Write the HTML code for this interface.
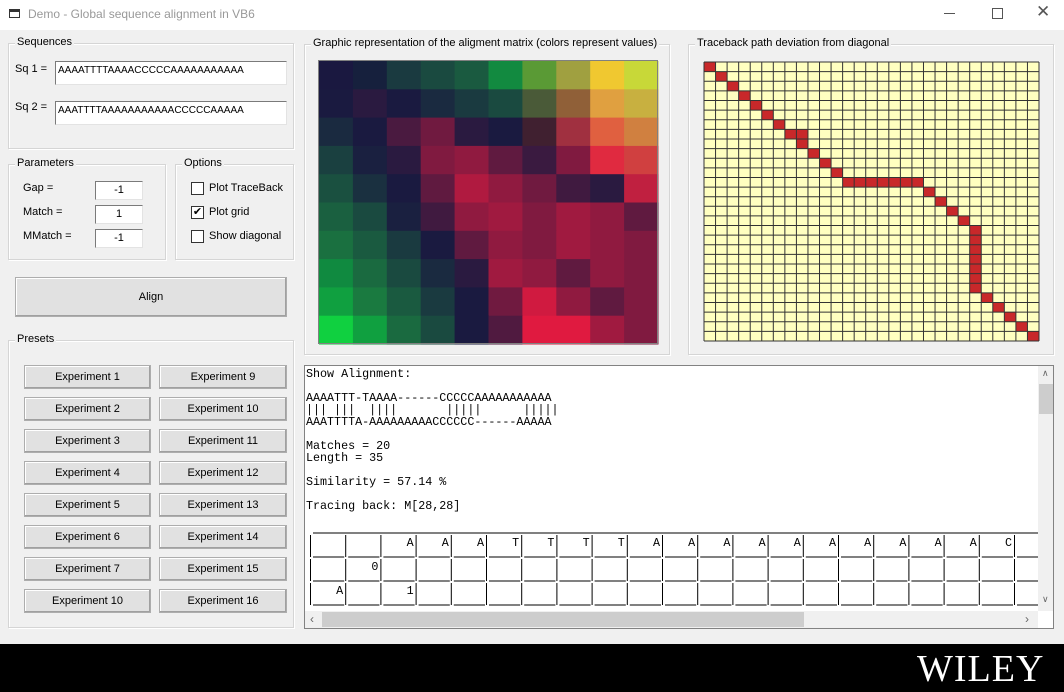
<!DOCTYPE html>
<html><head><meta charset="utf-8">
<style>
*{box-sizing:border-box;margin:0;padding:0}
body{width:1064px;height:692px;overflow:hidden;background:#f0f0f0;font-family:"Liberation Sans",sans-serif;font-size:11px;color:#000;position:relative}
.abs{position:absolute}
.grp{position:absolute;border:1px solid #d5d5d5;box-shadow:inset 1px 1px 0 #fff,1px 1px 0 #fff}
.grp>.lg{position:absolute;top:-8px;left:6px;background:#f0f0f0;padding:0 2px;font-size:11px}
.btn{position:absolute;background:#e1e1e1;border:1px solid #adadad;box-shadow:inset -1px -1px 0 #a0a0a0,inset 1px 1px 0 #fff;text-align:center;font-size:11px}
.tb{position:absolute;background:#fff;border:1px solid #7a7a7a;border-right-color:#e3e3e3;border-bottom-color:#e3e3e3;font-size:10px;padding:3px 2px}
.chk{position:absolute;width:13px;height:13px;border:1px solid #333;background:#fff}
.mono{font-family:"Liberation Mono",monospace;font-size:11.7px;line-height:12px;white-space:pre}
</style></head><body>
<div class="abs" style="left:0;top:0;width:1064px;height:30px;background:#fff">
  <div class="abs" style="left:9px;top:9px;width:11px;height:9px;border:1px solid #333;border-top-width:3px"></div>
  <div class="abs" style="left:28px;top:7px;font-size:12px;color:#999">Demo - Global sequence alignment in VB6</div>
  <div class="abs" style="left:944px;top:13px;width:11px;height:1px;background:#555"></div>
  <div class="abs" style="left:992px;top:8px;width:11px;height:11px;border:1px solid #555"></div>
  <div class="abs" style="left:1036px;top:2px;font-size:17px;color:#555">✕</div>
</div>

<div class="grp" style="left:8px;top:43px;width:286px;height:106px"><span class="lg">Sequences</span></div>
<div class="abs" style="left:15px;top:63px">Sq 1 =</div>
<div class="tb" style="left:55px;top:61px;width:232px;height:24px">AAAATTTTAAAACCCCCAAAAAAAAAAA</div>
<div class="abs" style="left:15px;top:101px">Sq 2 =</div>
<div class="tb" style="left:55px;top:101px;width:232px;height:24px">AAATTTTAAAAAAAAAAACCCCCAAAAA</div>

<div class="grp" style="left:8px;top:164px;width:158px;height:96px"><span class="lg">Parameters</span></div>
<div class="abs" style="left:23px;top:182px">Gap =</div>
<div class="abs" style="left:23px;top:206px">Match =</div>
<div class="abs" style="left:23px;top:230px">MMatch =</div>
<div class="tb" style="left:95px;top:181px;width:48px;height:19px;text-align:center;font-size:11px;padding:2px">-1</div>
<div class="tb" style="left:95px;top:205px;width:48px;height:19px;text-align:center;font-size:11px;padding:2px">1</div>
<div class="tb" style="left:95px;top:229px;width:48px;height:19px;text-align:center;font-size:11px;padding:2px">-1</div>

<div class="grp" style="left:175px;top:164px;width:119px;height:96px"><span class="lg">Options</span></div>
<div class="chk" style="left:191px;top:182px"></div>
<div class="abs" style="left:209px;top:182px">Plot TraceBack</div>
<div class="chk" style="left:191px;top:206px;font-size:11px;line-height:11px;text-align:center">✔</div>
<div class="abs" style="left:209px;top:206px">Plot grid</div>
<div class="chk" style="left:191px;top:230px"></div>
<div class="abs" style="left:209px;top:230px">Show diagonal</div>

<div class="btn" style="left:15px;top:277px;width:272px;height:40px;line-height:38px">Align</div>

<div class="grp" style="left:8px;top:340px;width:286px;height:288px"><span class="lg">Presets</span></div>
<div id="presets"></div>

<div class="grp" style="left:304px;top:44px;width:366px;height:311px"><span class="lg">Graphic representation of the aligment matrix (colors represent values)</span></div>
<svg class="abs" id="heat" style="left:318px;top:60px" width="341" height="285"></svg>

<div class="grp" style="left:688px;top:44px;width:366px;height:311px"><span class="lg">Traceback path deviation from diagonal</span></div>
<svg class="abs" id="trace" style="left:702px;top:60px" width="340" height="284"></svg>

<div class="abs" style="left:304px;top:365px;width:750px;height:264px;background:#fff;border:1px solid #828282;overflow:hidden">
<div class="abs mono" style="left:1px;top:2px">Show Alignment:

AAAATTT-TAAAA------CCCCCAAAAAAAAAAA
||| |||  ||||       |||||      |||||
AAATTTTA-AAAAAAAAACCCCCC------AAAAA

Matches = 20
Length = 35

Similarity = 57.14 %

Tracing back: M[28,28]</div>
<svg class="abs" id="tbl" style="left:0;top:160px" width="733" height="80"></svg>
<div class="abs" style="left:733px;top:0;width:17px;height:245px;background:#f0f0f0">
<div class="abs" style="left:4px;top:2px;font-size:9px;color:#666">∧</div>
<div class="abs" style="left:1px;top:18px;width:15px;height:30px;background:#cdcdcd"></div>
<div class="abs" style="left:4px;top:228px;font-size:9px;color:#666">∨</div></div>
<div class="abs" style="left:0;top:245px;width:733px;height:17px;background:#f0f0f0">
<div class="abs" style="left:5px;top:1px;font-size:12px;color:#666">‹</div>
<div class="abs" style="left:17px;top:1px;width:482px;height:15px;background:#cdcdcd"></div>
<div class="abs" style="left:720px;top:1px;font-size:12px;color:#666">›</div></div>
</div>

<div class="abs" style="left:0;top:644px;width:1064px;height:48px;background:#000"></div>
<div class="abs" style="left:917px;top:647px;font-family:'Liberation Serif',serif;font-size:38px;color:#fff;letter-spacing:1px">WILEY</div>

<script>
const presetsLeft=["Experiment 1","Experiment 2","Experiment 3","Experiment 4","Experiment 5","Experiment 6","Experiment 7","Experiment 10"];
const presetsRight=["Experiment 9","Experiment 10","Experiment 11","Experiment 12","Experiment 13","Experiment 14","Experiment 15","Experiment 16"];
const pc=document.getElementById('presets');
[[presetsLeft,24,127],[presetsRight,159,128]].forEach(([arr,x,w])=>arr.forEach((t,i)=>{
  const b=document.createElement('div');b.className='btn';
  
  
  b.style.cssText=`left:${x}px;top:${365+32*i}px;width:${w}px;height:24px;line-height:22px`;
  b.textContent=t;pc.appendChild(b);}));

// heatmap coarse colour samples (rows top->bottom)
const heatRows=[
["#1a1840","#16203d","#1a3a40","#1a4a40","#1a5a40","#128a40","#5a9a35","#a0a040","#f0c830","#c8d838"],
["#1a1a40","#2a1a40","#1a1a40","#1a2a40","#1a3a40","#1a4a40","#4a5a38","#906038","#e0a040","#c8b040"],
["#1a2a40","#1a1a40","#4a1a40","#701a40","#2a1a40","#1a1a40","#402030","#a03040","#e06040","#d08040"],
["#1a4040","#1a2040","#2a1a40","#801a40","#901a40","#601a40","#3a1a40","#801a40","#e02a40","#d04040"],
["#1a5040","#1a3040","#1a1a40","#601a40","#b01a40","#901a40","#701a40","#401a40","#2a1a40","#c02040"],
["#1a6040","#1a4a40","#1a2040","#401a40","#901a40","#a01a40","#801a40","#a01a40","#901a40","#601a40"],
["#1a7040","#1a5a40","#1a3a40","#1a1a40","#601a40","#901a40","#801a40","#a01a40","#901a40","#801a40"],
["#108a40","#1a6a40","#1a4a40","#1a2a40","#2a1a40","#a01a40","#901a40","#601a40","#901a40","#801a40"],
["#10a040","#1a7a40","#1a5a40","#1a3a40","#1a1a40","#701a40","#d01a40","#901a40","#601a40","#801a40"],
["#10d040","#10a040","#1a6a40","#1a4a40","#1a1a40","#501a40","#e01a40","#e01a40","#a01a40","#801a40"]];
const NS='http://www.w3.org/2000/svg';
const hs=document.getElementById('heat');
const hx=c=>1+c*339/heatRows[0].length, hy=r=>1+r*283/heatRows.length;
heatRows.forEach((row,r)=>row.forEach((col,c)=>{
  const e=document.createElementNS(NS,'rect');
  
  
  e.setAttribute('x',hx(c));e.setAttribute('y',hy(r));
  e.setAttribute('width',hx(c+1)-hx(c)+0.5);e.setAttribute('height',hy(r+1)-hy(r)+0.5);
  e.setAttribute('fill',col);hs.appendChild(e);}));
const hb=document.createElementNS(NS,'rect');


hb.setAttribute('x',0.5);hb.setAttribute('y',0.5);hb.setAttribute('width',339);hb.setAttribute('height',283);
hb.setAttribute('fill','none');hb.setAttribute('stroke','#808080');hs.appendChild(hb);

// traceback path
const gridN=29;
const pathCol=[0,1,2,3,4,5,6,7,8,8,9,10,11,12,13,14,15,16,17,18,19,20,21,22,23,23,23,23,23,23,23,24,25,26,27,28];
const pathRow=[0,1,2,3,4,5,6,7,7,8,9,10,11,12,12,12,12,12,12,12,13,14,15,16,17,18,19,20,21,22,23,24,25,26,27,28];
const ts=document.getElementById('trace');
const X0=2,Y0=2,W=335,H=279;
const gx=c=>X0+c*W/gridN, gy=r=>Y0+r*H/gridN;
const bg=document.createElementNS(NS,'rect');


bg.setAttribute('x',X0);bg.setAttribute('y',Y0);bg.setAttribute('width',W);bg.setAttribute('height',H);bg.setAttribute('fill','#ffffc0');ts.appendChild(bg);
pathCol.forEach((c,i)=>{
  const e=document.createElementNS(NS,'rect');
  
  
  e.setAttribute('x',gx(c));e.setAttribute('y',gy(pathRow[i]));
  e.setAttribute('width',W/gridN);e.setAttribute('height',H/gridN);e.setAttribute('fill','#c8282a');ts.appendChild(e);});
for(let k=0;k<=gridN;k++){
  const v=document.createElementNS(NS,'line');
  
  
  v.setAttribute('x1',gx(k));v.setAttribute('x2',gx(k));v.setAttribute('y1',Y0);v.setAttribute('y2',Y0+H);v.setAttribute('stroke','#333');ts.appendChild(v);
  const h=document.createElementNS(NS,'line');
  
  
  h.setAttribute('x1',X0);h.setAttribute('x2',X0+W);h.setAttribute('y1',gy(k));h.setAttribute('y2',gy(k));h.setAttribute('stroke','#333');ts.appendChild(h);}

// text table
const tblHeader=["","","A","A","A","T","T","T","T","A","A","A","A","A","A","A","A","A","A","C","C","C"];
const tblRow0=["","0"];
const tblRow1=["A","","1"];
const tb=document.getElementById('tbl');
const cw=35.2, tx=c=>5+c*cw;
function tline(x1,y1,x2,y2){const l=document.createElementNS(NS,'line');
  
  
  l.setAttribute('x1',x1);l.setAttribute('y1',y1);l.setAttribute('x2',x2);l.setAttribute('y2',y2);l.setAttribute('stroke','#000');tb.appendChild(l);}
tline(8,7,733,7);
[[tblHeader,20],[tblRow0,44],[tblRow1,68]].forEach(([arr,y],ri)=>{
  for(let c=0;c<tblHeader.length;c++){
    tline(tx(c)+0.5,y-11,tx(c)+0.5,y+11);
    tline(tx(c)+3,y+11,tx(c+1)-1,y+11);
    if(arr[c]){const t=document.createElementNS(NS,'text');
      
      
      t.setAttribute('x',tx(c+1)-2);t.setAttribute('y',y);t.setAttribute('text-anchor','end');
      t.setAttribute('font-family','Liberation Mono, monospace');t.setAttribute('font-size','11.7');t.textContent=arr[c];tb.appendChild(t);}
  }});
</script>
</body></html>
